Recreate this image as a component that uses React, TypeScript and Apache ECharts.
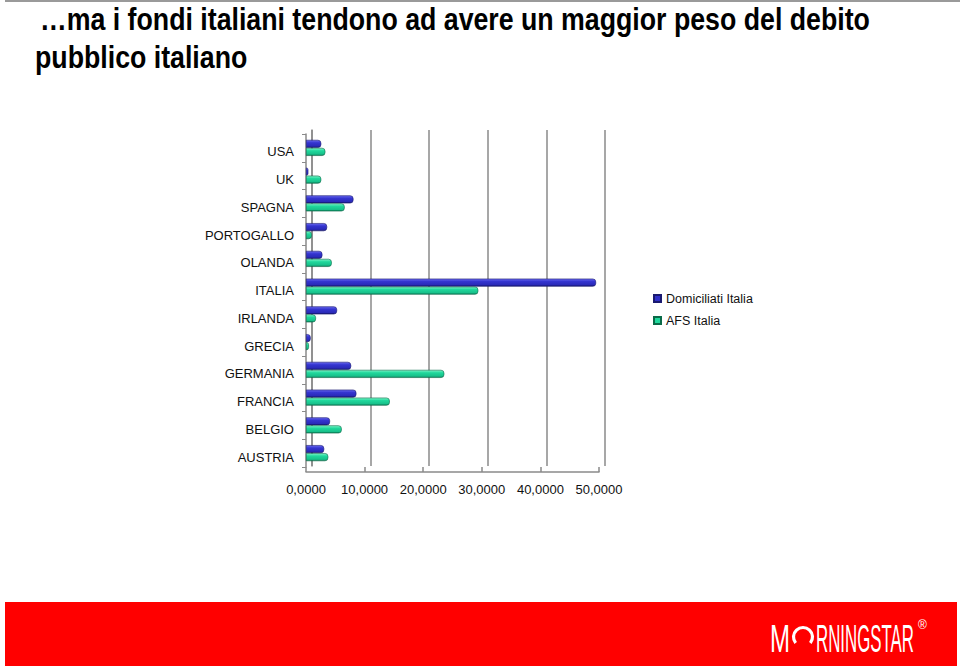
import React, { useEffect, useRef } from "react";
import * as echarts from "echarts";

const categories = [
  "USA",
  "UK",
  "SPAGNA",
  "PORTOGALLO",
  "OLANDA",
  "ITALIA",
  "IRLANDA",
  "GRECIA",
  "GERMANIA",
  "FRANCIA",
  "BELGIO",
  "AUSTRIA",
];
const domiciliatiItalia = [2.6, 0.4, 8.1, 3.6, 2.8, 49.5, 5.3, 0.8, 7.7, 8.6, 4.1, 3.1];
const afsItalia = [3.3, 2.6, 6.6, 1.0, 4.4, 29.4, 1.7, 0.5, 23.6, 14.3, 6.1, 3.8];
const xTicks = [0, 10, 20, 30, 40, 50];
const titleLines = [
  "…ma i fondi italiani tendono ad avere un maggior peso del debito",
  "pubblico italiano",
];
const seriesNames = ["Domiciliati Italia", "AFS Italia"];

const SANS = "'Liberation Sans', Arial, Helvetica, sans-serif";

function measure(text: string, font: string): number {
  const c = document.createElement("canvas");
  const ctx = c.getContext("2d");
  if (!ctx) return text.length * 10;
  ctx.font = font;
  return ctx.measureText(text).width;
}

export default function App() {
  const ref = useRef<HTMLDivElement>(null);
  useEffect(() => {
    if (!ref.current) return;
    const chart = echarts.init(ref.current, undefined, { renderer: "svg" });
    const xMin = xTicks[0];
    const xMax = xTicks[xTicks.length - 1];
    const interval = xTicks[1] - xTicks[0];

    const titleFont = `bold 31px 'Liberation Sans', Arial, sans-serif`;
    const titleScale = 830 / measure(titleLines[0], titleFont);
    const logoFont = `39px 'Liberation Sans', Arial, sans-serif`;
    const logoScale = 98 / measure("RNINGSTAR", logoFont);
    const mScale = 20 / measure("M", logoFont);

    const blueGrad = new echarts.graphic.LinearGradient(0, 0, 0, 1, [
      { offset: 0, color: "#6a6af0" },
      { offset: 0.35, color: "#3535d0" },
      { offset: 0.8, color: "#2a2ab8" },
      { offset: 1, color: "#15156a" },
    ]);
    const greenGrad = new echarts.graphic.LinearGradient(0, 0, 0, 1, [
      { offset: 0, color: "#7ff5c8" },
      { offset: 0.35, color: "#20d89c" },
      { offset: 0.8, color: "#18c08a" },
      { offset: 1, color: "#0a7a55" },
    ]);
    const grey = "#8a8a8a";
    chart.setOption({
      animation: false,
      backgroundColor: "#ffffff",
      legend: {
        orient: "vertical",
        left: 648,
        top: 287,
        itemWidth: 7,
        itemHeight: 7,
        itemGap: 9,
        icon: "rect",
        textStyle: { fontFamily: SANS, fontSize: 12.5, color: "#111" },
        data: [
          { name: seriesNames[0], itemStyle: { color: "#3030c8" } },
          { name: seriesNames[1], itemStyle: { color: "#20d89c" } },
        ],
      },
      grid: [
        { left: 312, top: 130, width: 293, height: 336 },
        { left: 306, top: 134, width: 293, height: 333 },
        { left: 306, top: 138, width: 293, height: 333 },
      ],
      xAxis: [
        {
          gridIndex: 0,
          type: "value",
          min: xMin,
          max: xMax,
          interval,
          axisLine: { show: false },
          axisTick: { show: false },
          axisLabel: { show: false },
          splitLine: { show: true, lineStyle: { color: grey, width: 1.5 } },
        },
        {
          gridIndex: 1,
          type: "value",
          min: xMin,
          max: xMax,
          interval,
          offset: 5,
          axisLine: { show: true, lineStyle: { color: grey, width: 1.5 } },
          axisTick: { show: true, length: 5, inside: true, lineStyle: { color: grey, width: 1.5 } },
          axisLabel: {
            margin: 11,
            fontFamily: SANS,
            fontSize: 13,
            color: "#111",
            formatter: (v: number) => v.toFixed(4).replace(".", ","),
          },
          splitLine: { show: false },
        },
        {
          gridIndex: 2,
          type: "value",
          min: xMin,
          max: xMax,
          show: false,
        },
      ],
      yAxis: [
        {
          gridIndex: 0,
          type: "category",
          data: categories,
          inverse: true,
          axisLine: { show: true, lineStyle: { color: grey, width: 1.5 } },
          axisTick: { show: false },
          axisLabel: { show: false },
          splitLine: { show: false },
        },
        {
          gridIndex: 1,
          type: "category",
          data: categories,
          inverse: true,
          axisLine: { show: true, lineStyle: { color: grey, width: 1.5 } },
          axisTick: { show: true, length: 4, lineStyle: { color: grey } },
          axisLabel: { show: false },
          splitLine: { show: false },
        },
        {
          gridIndex: 2,
          type: "category",
          data: categories,
          inverse: true,
          axisLine: { show: false },
          axisTick: { show: false },
          axisLabel: {
            margin: 12,
            fontFamily: SANS,
            fontSize: 13,
            color: "#111",
          },
          splitLine: { show: false },
        },
      ],
      series: [
        {
          name: seriesNames[0],
          type: "bar",
          xAxisIndex: 1,
          yAxisIndex: 1,
          data: domiciliatiItalia,
          barWidth: 8,
          barGap: "0%",
          itemStyle: { color: blueGrad, borderColor: "#1a1a70", borderWidth: 0.6, borderRadius: [0, 3, 3, 0] },
        },
        {
          name: seriesNames[1],
          type: "bar",
          xAxisIndex: 1,
          yAxisIndex: 1,
          data: afsItalia,
          barWidth: 8,
          barGap: "0%",
          itemStyle: { color: greenGrad, borderColor: "#0a6a48", borderWidth: 0.6, borderRadius: [0, 3, 3, 0] },
        },
      ],
      graphic: [
        { type: "rect", shape: { x: 5, y: 0, width: 955, height: 2 }, style: { fill: "#9a9a9a" } },
        {
          type: "text",
          x: 40,
          y: 4,
          scaleX: titleScale,
          style: { text: titleLines[0], font: titleFont, fill: "#000" },
        },
        {
          type: "text",
          x: 35,
          y: 42,
          scaleX: titleScale,
          style: { text: titleLines[1], font: titleFont, fill: "#000" },
        },
        { type: "rect", shape: { x: 5, y: 602, width: 952, height: 64 }, style: { fill: "#ff0000" } },
        {
          type: "text",
          x: 770,
          y: 619,
          scaleX: mScale,
          style: { text: "M", font: logoFont, fill: "#fff" },
        },
        {
          type: "arc",
          shape: { cx: 803, cy: 637, r: 9.5, startAngle: Math.PI * 0.78, endAngle: Math.PI * 2.22 },
          style: { stroke: "#fff", lineWidth: 3.2, fill: "none" },
        },
        {
          type: "text",
          x: 816,
          y: 619,
          scaleX: logoScale,
          style: { text: "RNINGSTAR", font: logoFont, fill: "#fff" },
        },
        {
          type: "text",
          x: 918,
          y: 619,
          style: { text: "®", font: `12px ${SANS}`, fill: "#fff" },
        },
      ],
    });
    return () => chart.dispose();
  }, []);
  return (
    <div
      ref={ref}
      style={{ position: "fixed", left: 0, top: 0, width: 960, height: 668 }}
    />
  );
}
